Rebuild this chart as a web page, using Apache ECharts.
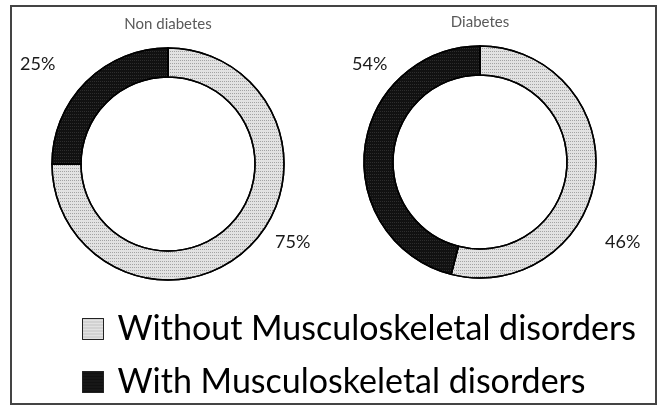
<!DOCTYPE html>
<html>
<head>
<meta charset="utf-8">
<script src="https://cdn.jsdelivr.net/npm/echarts@6/dist/echarts.min.js"></script>
<style>
  html, body { margin: 0; padding: 0; background: #fff; }
  #main { width: 657px; height: 405px; }
</style>
</head>
<body>
<div id="main"></div>
<script>
// chart data
const groups = ['Non diabetes', 'Diabetes'];
const categories = ['Without Musculoskeletal disorders', 'With Musculoskeletal disorders'];
// arc sizes as drawn in the picture (light, dark)
const nonDiabetes = [75, 25];
const diabetes = [54, 46];

const lightFill = {
  color: '#e2e2e2',
  decal: { symbol: 'rect', symbolSize: 1, color: 'rgba(0,0,0,0.28)', dashArrayX: [1, 1], dashArrayY: [1, 2] }
};
const darkFill = {
  color: '#111',
  decal: { symbol: 'rect', symbolSize: 1, color: 'rgba(255,255,255,0.12)', dashArrayX: [1, 1], dashArrayY: [1, 2] }
};

// where the percent labels sit, per slice (light, dark)
const labelSpots = [
  [[275, 242], [20, 64]],
  [[352, 64], [605, 242]]
];

function makePie(idx, values, center) {
  return {
    type: 'pie',
    name: groups[idx],
    center: center,
    radius: [87, 116],
    startAngle: 90,
    clockwise: true,
    avoidLabelOverlap: false,
    silent: true,
    itemStyle: { borderColor: '#000', borderWidth: 1.5 },
    label: {
      show: true,
      position: 'outside',
      formatter: (p) => p.value + '%',
      fontFamily: 'Lato',
      fontSize: 18,
      color: '#1a1a1a',
      align: 'left',
      verticalAlign: 'middle'
    },
    labelLine: { show: false },
    labelLayout: (p) => {
      const s = labelSpots[idx][p.dataIndex];
      return { x: s[0], y: s[1], align: 'left', verticalAlign: 'middle' };
    },
    data: values.map((v, i) => ({
      name: categories[i],
      value: v,
      itemStyle: i === 0 ? lightFill : darkFill
    }))
  };
}

const titleStyle = { fontFamily: 'Lato', fontSize: 15, fontWeight: 'normal', color: '#595959' };

const chart = echarts.init(document.getElementById('main'));
chart.setOption({
  animation: false,
  backgroundColor: '#fff',
  title: [
    { text: groups[0], left: 168, top: 17, textAlign: 'center', padding: 0, textStyle: titleStyle },
    { text: groups[1], left: 480, top: 15, textAlign: 'center', padding: 0, textStyle: titleStyle }
  ],
  legend: {
    orient: 'vertical',
    left: 82,
    top: 312,
    padding: 0,
    itemWidth: 21,
    itemHeight: 21,
    itemGap: 19,
    selectedMode: false,
    textStyle: { fontFamily: 'Lato', fontSize: 34, lineHeight: 31, color: '#000', padding: [0, 0, 0, 9] },
    data: categories.map((c, i) => ({
      name: c,
      icon: 'rect',
      itemStyle: Object.assign({ borderColor: '#222', borderWidth: 1 }, i === 0 ? lightFill : darkFill)
    }))
  },
  graphic: [{
    type: 'rect',
    shape: { x: 11, y: 6, width: 645, height: 398 },
    style: { fill: 'none', stroke: '#444', lineWidth: 2 },
    silent: true
  }],
  series: [
    makePie(0, nonDiabetes, [168, 164]),
    makePie(1, diabetes, [480, 162])
  ]
});
</script>
</body>
</html>
